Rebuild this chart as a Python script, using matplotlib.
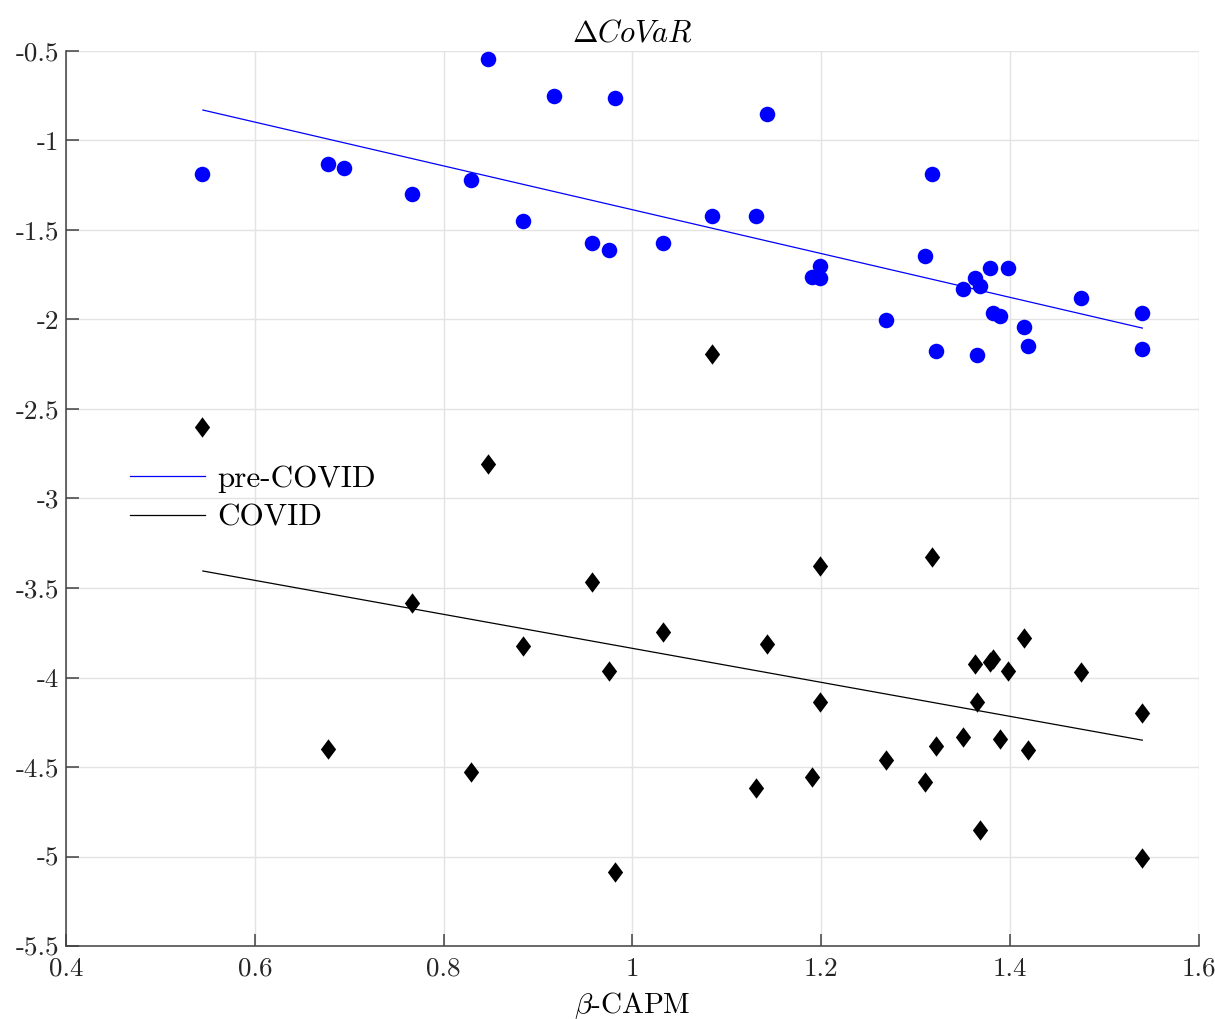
import numpy as np
import matplotlib
matplotlib.use("Agg")
import matplotlib.pyplot as plt
from matplotlib.path import Path
from matplotlib.ticker import FuncFormatter, MultipleLocator

plt.rcParams['font.family'] = ['cmr10', 'DejaVu Serif']
plt.rcParams['mathtext.fontset'] = 'cm'
plt.rcParams['axes.unicode_minus'] = False
plt.rcParams['axes.formatter.use_mathtext'] = True

#------------DATA-------------------------------------------------
beta_pre = [0.544, 0.678, 0.694, 0.767, 0.829, 0.847, 0.884, 0.917, 0.957, 0.975,
            0.982, 1.032, 1.084, 1.131, 1.143, 1.190, 1.199, 1.199, 1.269, 1.310,
            1.317, 1.322, 1.350, 1.363, 1.365, 1.368, 1.379, 1.382, 1.389, 1.398,
            1.415, 1.419, 1.475, 1.540, 1.540]
covar_pre = [-1.187, -1.131, -1.154, -1.299, -1.221, -0.545, -1.450, -0.751, -1.573, -1.612,
             -0.763, -1.573, -1.422, -1.422, -0.852, -1.763, -1.701, -1.768, -2.003, -1.645,
             -1.187, -2.176, -1.830, -1.768, -2.198, -1.813, -1.712, -1.964, -1.980, -1.712,
             -2.042, -2.148, -1.880, -1.964, -2.165]

beta_covid = [0.544, 0.678, 0.767, 0.829, 0.847, 0.884, 0.957, 0.975, 0.982, 1.032,
              1.084, 1.131, 1.143, 1.190, 1.199, 1.199, 1.269, 1.310, 1.317, 1.322,
              1.350, 1.363, 1.365, 1.368, 1.379, 1.382, 1.389, 1.398, 1.415, 1.419,
              1.475, 1.540, 1.540]
covar_covid = [-2.601, -4.399, -3.584, -4.528, -2.807, -3.824, -3.466, -3.964, -5.087, -3.746,
               -2.193, -4.617, -3.813, -4.556, -3.377, -4.137, -4.461, -4.584, -3.327, -4.383,
               -4.332, -3.925, -4.137, -4.852, -3.913, -3.897, -4.344, -3.964, -3.779, -4.405,
               -3.969, -4.198, -5.008]

# fitted lines (value at min beta, value at max beta)
fit_x = [0.545, 1.540]
fit_pre = [-0.830, -2.048]
fit_covid = [-3.405, -4.350]

#------------PLOT--------------------------
fig = plt.figure(figsize=(12.15, 10.19), dpi=100)
ax = fig.add_axes([0.0543, 0.0716, 0.9325, 0.8784])

diamond = Path([(0, 1), (0.75, 0), (0, -1), (-0.75, 0), (0, 1)],
               [Path.MOVETO, Path.LINETO, Path.LINETO, Path.LINETO, Path.CLOSEPOLY])

ax.plot(fit_x, fit_pre, color="#0000ff", linewidth=0.9, label="pre-COVID", zorder=3)
ax.plot(fit_x, fit_covid, color="black", linewidth=0.9, label="COVID", zorder=3)
ax.scatter(beta_pre, covar_pre, s=125, color="#0000ff", marker="o", linewidths=0, zorder=4)
ax.scatter(beta_covid, covar_covid, s=215, color="black", marker=diamond, linewidths=0, zorder=4)

ax.set_xlim(0.4, 1.6)
ax.set_ylim(-5.5, -0.5)
ax.xaxis.set_major_locator(MultipleLocator(0.2))
ax.yaxis.set_major_locator(MultipleLocator(0.5))
fmt = FuncFormatter(lambda v, p: "%g" % round(v, 2))
ax.xaxis.set_major_formatter(fmt)
ax.yaxis.set_major_formatter(fmt)

ax.grid(True, color="#e3e3e3", linewidth=1.0)
ax.set_axisbelow(True)
for s in ["top", "right"]:
    ax.spines[s].set_visible(False)
for s in ["left", "bottom"]:
    ax.spines[s].set_color("#404040")
    ax.spines[s].set_linewidth(1.1)
ax.tick_params(direction="in", length=9, width=1.1, color="#404040",
               labelsize=19.5, labelcolor="#262626", pad=5)
ax.tick_params(axis="x", pad=8)

ax.set_title(r"$\Delta CoVaR$", fontsize=22, pad=7)
ax.set_xlabel(r"$\beta$-CAPM", fontsize=21, labelpad=7)

ax.legend(loc="center left", bbox_to_anchor=(0.0565, 0.500), frameon=False,
          fontsize=22.4, handlelength=2.42, handletextpad=0.39, labelspacing=0.36,
          borderpad=0, borderaxespad=0)

plt.savefig("out.png", dpi=100)
plt.close(None)
